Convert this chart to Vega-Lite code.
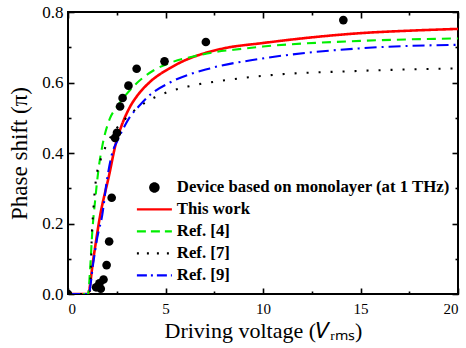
{
  "$schema": "https://vega.github.io/schema/vega-lite/v6.json",
  "width": 390,
  "height": 282,
  "autosize": {"type": "none"},
  "padding": {"left": 68, "top": 12, "right": 8, "bottom": 54},
  "background": "white",
  "config": {
    "view": {"stroke": "black", "strokeWidth": 2},
    "font": "Liberation Serif",
    "axis": {
      "labelFont": "Liberation Serif", "labelFontSize": 15, "labelColor": "black",
      "titleFont": "Liberation Serif", "titleFontSize": 22, "titleFontWeight": "normal", "titleColor": "black",
      "ticks": true, "tickColor": "black", "tickWidth": 1.6, "tickOpacity": 1, "domain": false, "grid": false, "zindex": 1
    }
  },
  "datasets": {
    "pts": [
      {"v": 0, "p": 0, "s": "Device based on monolayer (at 1 THz)"},
      {"v": 1.44, "p": 0.019, "s": "Device based on monolayer (at 1 THz)"},
      {"v": 1.61, "p": 0.03, "s": "Device based on monolayer (at 1 THz)"},
      {"v": 1.68, "p": 0.015, "s": "Device based on monolayer (at 1 THz)"},
      {"v": 1.82, "p": 0.041, "s": "Device based on monolayer (at 1 THz)"},
      {"v": 1.98, "p": 0.082, "s": "Device based on monolayer (at 1 THz)"},
      {"v": 2.11, "p": 0.149, "s": "Device based on monolayer (at 1 THz)"},
      {"v": 2.24, "p": 0.273, "s": "Device based on monolayer (at 1 THz)"},
      {"v": 2.41, "p": 0.443, "s": "Device based on monolayer (at 1 THz)"},
      {"v": 2.51, "p": 0.457, "s": "Device based on monolayer (at 1 THz)"},
      {"v": 2.67, "p": 0.532, "s": "Device based on monolayer (at 1 THz)"},
      {"v": 2.8, "p": 0.556, "s": "Device based on monolayer (at 1 THz)"},
      {"v": 3.1, "p": 0.591, "s": "Device based on monolayer (at 1 THz)"},
      {"v": 3.52, "p": 0.639, "s": "Device based on monolayer (at 1 THz)"},
      {"v": 4.95, "p": 0.66, "s": "Device based on monolayer (at 1 THz)"},
      {"v": 7.07, "p": 0.715, "s": "Device based on monolayer (at 1 THz)"},
      {"v": 14.12, "p": 0.777, "s": "Device based on monolayer (at 1 THz)"}
    ],
    "curves": [
      {"v": 0, "p": 0, "s": "This work"},
      {"v": 1.02, "p": 0, "s": "This work"},
      {"v": 1.3, "p": 0.1, "s": "This work"},
      {"v": 1.64, "p": 0.22, "s": "This work"},
      {"v": 2.1, "p": 0.335, "s": "This work"},
      {"v": 2.49, "p": 0.435, "s": "This work"},
      {"v": 2.75, "p": 0.478, "s": "This work"},
      {"v": 3.18, "p": 0.531, "s": "This work"},
      {"v": 3.6, "p": 0.566, "s": "This work"},
      {"v": 4.21, "p": 0.602, "s": "This work"},
      {"v": 5.2, "p": 0.64, "s": "This work"},
      {"v": 6, "p": 0.663, "s": "This work"},
      {"v": 7, "p": 0.683, "s": "This work"},
      {"v": 8, "p": 0.697, "s": "This work"},
      {"v": 10, "p": 0.712, "s": "This work"},
      {"v": 12.5, "p": 0.728, "s": "This work"},
      {"v": 15, "p": 0.74, "s": "This work"},
      {"v": 17.5, "p": 0.747, "s": "This work"},
      {"v": 20, "p": 0.752, "s": "This work"},

      {"v": 0, "p": 0, "s": "Ref. [4]"},
      {"v": 1.03, "p": 0, "s": "Ref. [4]"},
      {"v": 1.13, "p": 0.068, "s": "Ref. [4]"},
      {"v": 1.25, "p": 0.18, "s": "Ref. [4]"},
      {"v": 1.4, "p": 0.27, "s": "Ref. [4]"},
      {"v": 1.56, "p": 0.352, "s": "Ref. [4]"},
      {"v": 1.76, "p": 0.42, "s": "Ref. [4]"},
      {"v": 2.15, "p": 0.498, "s": "Ref. [4]"},
      {"v": 2.5, "p": 0.53, "s": "Ref. [4]"},
      {"v": 3.0, "p": 0.567, "s": "Ref. [4]"},
      {"v": 3.52, "p": 0.598, "s": "Ref. [4]"},
      {"v": 4.38, "p": 0.634, "s": "Ref. [4]"},
      {"v": 5.4, "p": 0.659, "s": "Ref. [4]"},
      {"v": 6.43, "p": 0.674, "s": "Ref. [4]"},
      {"v": 7.5, "p": 0.686, "s": "Ref. [4]"},
      {"v": 8.5, "p": 0.693, "s": "Ref. [4]"},
      {"v": 10, "p": 0.702, "s": "Ref. [4]"},
      {"v": 15, "p": 0.718, "s": "Ref. [4]"},
      {"v": 20, "p": 0.725, "s": "Ref. [4]"},

      {"v": 0, "p": 0, "s": "Ref. [7]"},
      {"v": 1.1, "p": 0, "s": "Ref. [7]"},
      {"v": 1.16, "p": 0.045, "s": "Ref. [7]"},
      {"v": 1.21, "p": 0.148, "s": "Ref. [7]"},
      {"v": 1.3, "p": 0.238, "s": "Ref. [7]"},
      {"v": 1.42, "p": 0.318, "s": "Ref. [7]"},
      {"v": 1.73, "p": 0.39, "s": "Ref. [7]"},
      {"v": 1.93, "p": 0.418, "s": "Ref. [7]"},
      {"v": 2.5, "p": 0.47, "s": "Ref. [7]"},
      {"v": 3.0, "p": 0.5, "s": "Ref. [7]"},
      {"v": 3.9, "p": 0.541, "s": "Ref. [7]"},
      {"v": 4.46, "p": 0.558, "s": "Ref. [7]"},
      {"v": 5.06, "p": 0.572, "s": "Ref. [7]"},
      {"v": 6.26, "p": 0.59, "s": "Ref. [7]"},
      {"v": 8.14, "p": 0.607, "s": "Ref. [7]"},
      {"v": 10, "p": 0.619, "s": "Ref. [7]"},
      {"v": 15, "p": 0.633, "s": "Ref. [7]"},
      {"v": 20, "p": 0.64, "s": "Ref. [7]"},

      {"v": 0, "p": 0, "s": "Ref. [9]"},
      {"v": 1.05, "p": 0, "s": "Ref. [9]"},
      {"v": 1.3, "p": 0.09, "s": "Ref. [9]"},
      {"v": 1.5, "p": 0.16, "s": "Ref. [9]"},
      {"v": 1.76, "p": 0.225, "s": "Ref. [9]"},
      {"v": 1.98, "p": 0.317, "s": "Ref. [9]"},
      {"v": 2.24, "p": 0.394, "s": "Ref. [9]"},
      {"v": 2.58, "p": 0.44, "s": "Ref. [9]"},
      {"v": 2.75, "p": 0.46, "s": "Ref. [9]"},
      {"v": 3.18, "p": 0.503, "s": "Ref. [9]"},
      {"v": 3.61, "p": 0.531, "s": "Ref. [9]"},
      {"v": 4.21, "p": 0.565, "s": "Ref. [9]"},
      {"v": 5.23, "p": 0.6, "s": "Ref. [9]"},
      {"v": 7.28, "p": 0.64, "s": "Ref. [9]"},
      {"v": 9.85, "p": 0.667, "s": "Ref. [9]"},
      {"v": 15, "p": 0.697, "s": "Ref. [9]"},
      {"v": 20, "p": 0.707, "s": "Ref. [9]"}
    ]
  },
  "layer": [
    {
      "data": {"name": "curves"},
      "mark": {"type": "line", "clip": true, "interpolate": "monotone"},
      "encoding": {
        "x": {"field": "v", "type": "quantitative",
              "scale": {"domain": [0, 20], "nice": false},
              "axis": {"orient": "bottom", "title": "Driving voltage (𝑉ᵣₘₛ)", "titlePadding": 4,
                       "values": [0, 5, 10, 15, 20], "tickSize": 6, "offset": -6,
                       "labelPadding": 7}},
        "y": {"field": "p", "type": "quantitative",
              "scale": {"domain": [0, 0.8], "nice": false},
              "axis": {"orient": "left", "title": "Phase shift (π)", "titlePadding": 10, "titleFontSize": 23,
                       "values": [0, 0.2, 0.4, 0.6, 0.8], "tickSize": 6, "offset": -6,
                       "format": ".1f", "labelFontSize": 17,
                       "labelPadding": 5}},
        "color": {"field": "s", "type": "nominal",
                  "scale": {"domain": ["Device based on monolayer (at 1 THz)", "This work", "Ref. [4]", "Ref. [7]", "Ref. [9]"],
                            "range": ["black", "#ff0000", "#00ee00", "black", "#0000ff"]},
                  "legend": {
                    "title": null, "orient": "none", "legendX": 78, "legendY": 167,
                    "padding": 0, "symbolSize": 1225, "symbolType": "stroke",
                    "labelFont": "Liberation Serif", "labelFontSize": 16.8, "labelFontWeight": "bold", "labelColor": "black",
                    "labelOffset": 14, "rowPadding": 4, "labelLimit": 400,
                    "encode": {"symbols": {"update": {
                      "shape": {"signal": "datum.value === 'Device based on monolayer (at 1 THz)' ? 'M -0.3 0 A 0.3 0.3 0 1 0 0.3 0 A 0.3 0.3 0 1 0 -0.3 0 Z' : 'stroke'"},
                      "fill": {"signal": "datum.value === 'Device based on monolayer (at 1 THz)' ? 'black' : 'transparent'"},
                      "stroke": {"signal": "scale('color', datum.value)"},
                      "strokeWidth": {"signal": "datum.value === 'Device based on monolayer (at 1 THz)' ? 0 : 2.3"},
                      "strokeDash": {"signal": "datum.value === 'Ref. [4]' ? [9, 5] : datum.value === 'Ref. [7]' ? [2, 8] : datum.value === 'Ref. [9]' ? [10, 4, 2, 4] : [1, 0]"},
                      "opacity": {"value": 1}
                    }}}
                  }},
        "strokeDash": {"field": "s", "type": "nominal",
                       "scale": {"domain": ["This work", "Ref. [4]", "Ref. [7]", "Ref. [9]"],
                                 "range": [[1, 0], [9, 6], [2, 10], [12, 5, 2, 5]]},
                       "legend": null},
        "strokeWidth": {"condition": {"test": "datum.s === 'This work'", "value": 2.6}, "value": 2.1}
      }
    },
    {
      "data": {"name": "pts"},
      "mark": {"type": "circle", "clip": true, "opacity": 1, "size": 75},
      "encoding": {
        "x": {"field": "v", "type": "quantitative",
              "axis": {"orient": "bottom", "title": null, "labels": false,
                       "values": [2.5, 7.5, 12.5, 17.5], "tickSize": 3, "offset": -3}},
        "y": {"field": "p", "type": "quantitative",
              "axis": {"orient": "left", "title": null, "labels": false,
                       "values": [0.1, 0.3, 0.5, 0.7], "tickSize": 3, "offset": -3}},
        "color": {"field": "s", "type": "nominal"}
      }
    },
    {
      "data": {"name": "pts"},
      "mark": {"type": "point", "opacity": 0},
      "encoding": {
        "x": {"field": "v", "type": "quantitative",
              "axis": {"orient": "top", "title": null, "labels": false,
                       "values": [0, 5, 10, 15, 20], "tickSize": 6, "offset": -6}},
        "y": {"field": "p", "type": "quantitative",
              "axis": {"orient": "right", "title": null, "labels": false,
                       "values": [0, 0.2, 0.4, 0.6, 0.8], "tickSize": 6, "offset": -6}}
      }
    },
    {
      "data": {"name": "pts"},
      "mark": {"type": "point", "opacity": 0},
      "encoding": {
        "x": {"field": "v", "type": "quantitative",
              "axis": {"orient": "top", "title": null, "labels": false,
                       "values": [2.5, 7.5, 12.5, 17.5], "tickSize": 3, "offset": -3}},
        "y": {"field": "p", "type": "quantitative",
              "axis": {"orient": "right", "title": null, "labels": false,
                       "values": [0.1, 0.3, 0.5, 0.7], "tickSize": 3, "offset": -3}}
      }
    }
  ],
  "resolve": {"axis": {"x": "independent", "y": "independent"}}
}
